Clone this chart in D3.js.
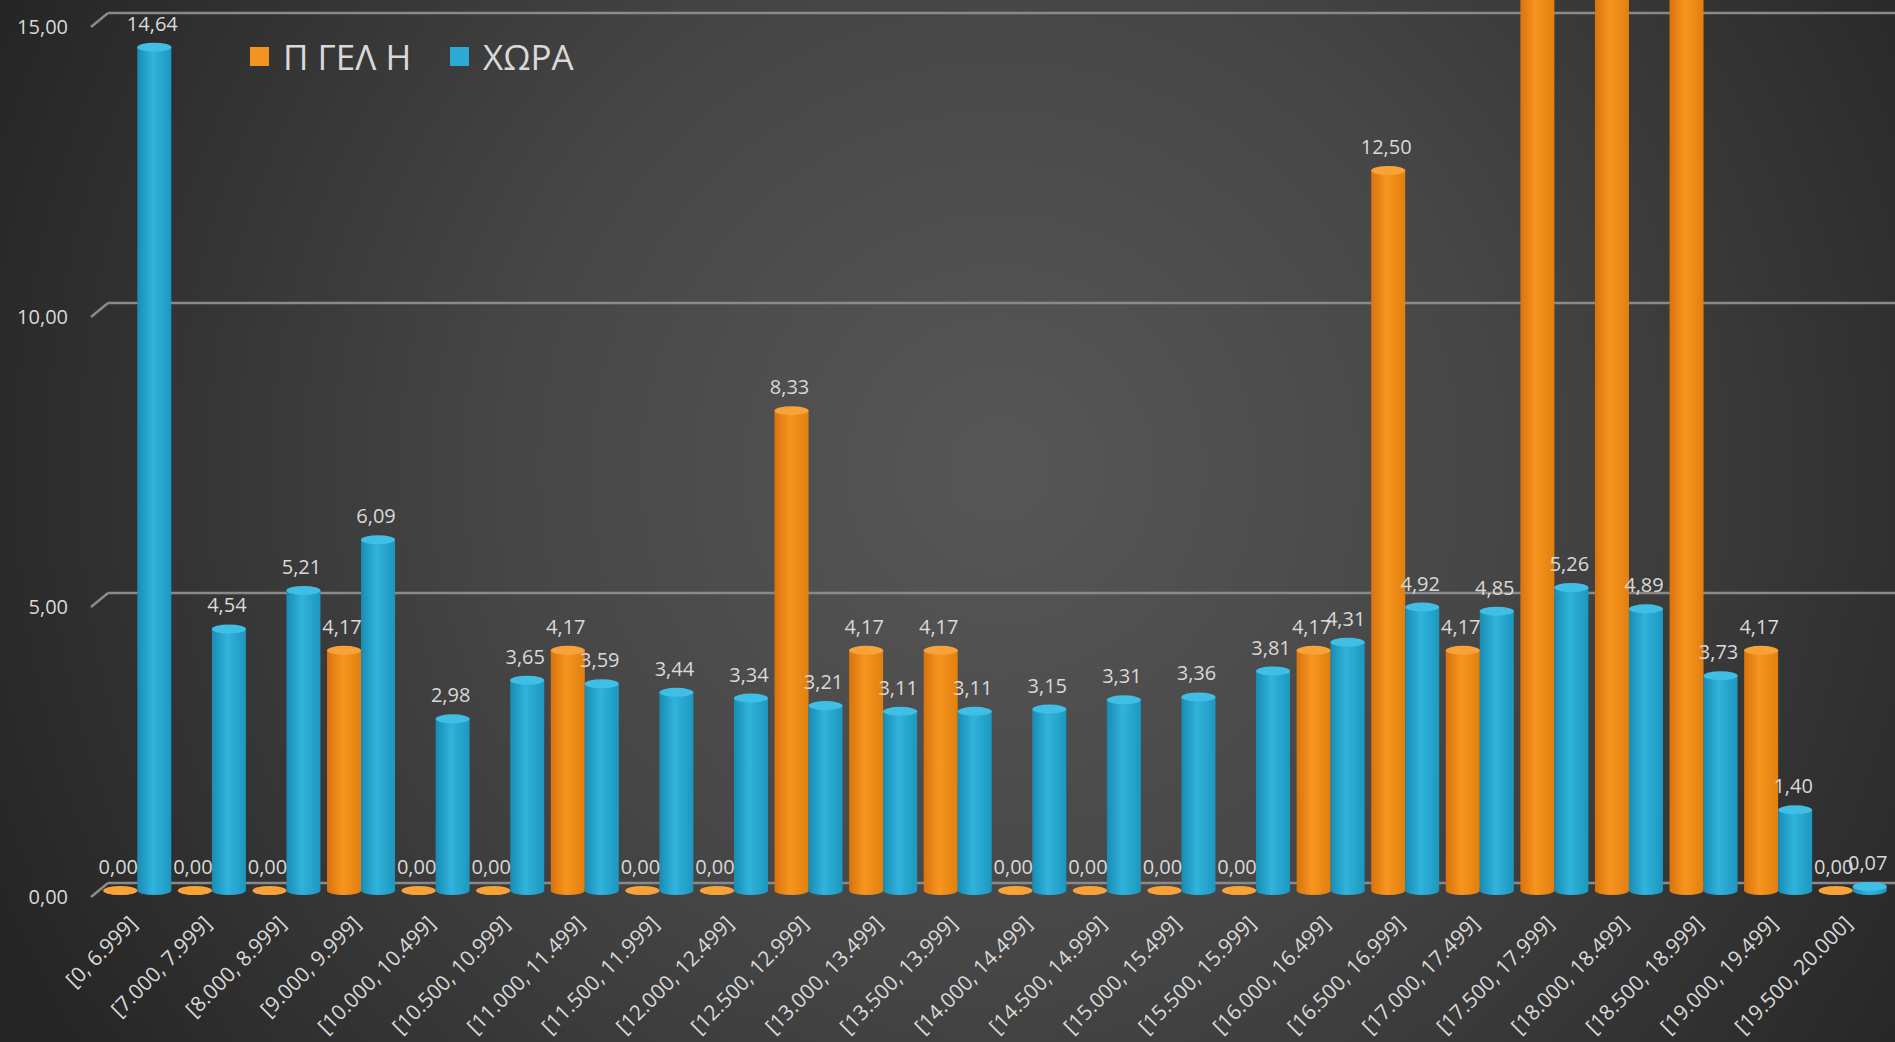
<!DOCTYPE html>
<html>
<head>
<meta charset="utf-8">
<script src="https://cdn.jsdelivr.net/npm/d3@7"></script>
<style>
  html, body { margin: 0; padding: 0; background: #2a2a2a; overflow: hidden; }
  text { font-family: "Open Sans", "Noto Sans", sans-serif; }
</style>
</head>
<body>
<script>
// categories (grade ranges)
var categories = ["[0, 6.999]", "[7.000, 7.999]", "[8.000, 8.999]", "[9.000, 9.999]",
  "[10.000, 10.499]", "[10.500, 10.999]", "[11.000, 11.499]", "[11.500, 11.999]",
  "[12.000, 12.499]", "[12.500, 12.999]", "[13.000, 13.499]", "[13.500, 13.999]",
  "[14.000, 14.499]", "[14.500, 14.999]", "[15.000, 15.499]", "[15.500, 15.999]",
  "[16.000, 16.499]", "[16.500, 16.999]", "[17.000, 17.499]", "[17.500, 17.999]",
  "[18.000, 18.499]", "[18.500, 18.999]", "[19.000, 19.499]", "[19.500, 20.000]"];

// series values (%)
var seriesNames = ["Π ΓΕΛ Η", "ΧΩΡΑ"];
var schoolValues = [0, 0, 0, 4.17, 0, 0, 4.17, 0, 0, 8.33, 4.17, 4.17,
  0, 0, 0, 0, 4.17, 12.50, 4.17, 16.67, 16.67, 16.67, 4.17, 0];
var countryValues = [14.64, 4.54, 5.21, 6.09, 2.98, 3.65, 3.59, 3.44, 3.34, 3.21, 3.11, 3.11,
  3.15, 3.31, 3.36, 3.81, 4.31, 4.92, 4.85, 5.26, 4.89, 3.73, 1.40, 0.07];

// y axis ticks
var yTicks = [0, 5, 10, 15];

var svgWidth = 1895;
var svgHeight = 1042;

var svg = d3.select('body').append('svg')
  .attr('width', svgWidth)
  .attr('height', svgHeight);

var defs = svg.append('defs');

// background radial gradient
var bg = defs.append('radialGradient')
  .attr('id', 'bg')
  .attr('gradientUnits', 'userSpaceOnUse')
  .attr('cx', 1000).attr('cy', 470).attr('r', 1100);
bg.append('stop').attr('offset', '0%').attr('stop-color', '#575757');
bg.append('stop').attr('offset', '45%').attr('stop-color', '#464646');
bg.append('stop').attr('offset', '100%').attr('stop-color', '#252525');

svg.append('rect')
  .attr('width', svgWidth)
  .attr('height', svgHeight)
  .attr('fill', 'url(#bg)');

// cylinder gradients
function cylGradient(id, dark, mid, light) {
  var g = defs.append('linearGradient').attr('id', id)
    .attr('x1', '0%').attr('x2', '100%').attr('y1', '0%').attr('y2', '0%');
  g.append('stop').attr('offset', '0%').attr('stop-color', dark);
  g.append('stop').attr('offset', '45%').attr('stop-color', light);
  g.append('stop').attr('offset', '100%').attr('stop-color', mid);
}
cylGradient('gOrange', '#d9730d', '#e2800f', '#f7951f');
cylGradient('gBlue', '#188cb3', '#1d97bf', '#30b3dc');

var colors = { body: ['url(#gOrange)', 'url(#gBlue)'], top: ['#f9a23a', '#3fbfe5'] };

// scales
var xScale = d3.scaleBand().domain(categories).range([100, 1890]).padding(0);
var xSub = d3.scaleBand().domain(seriesNames)
  .range([xScale.bandwidth() / 2 - 34, xScale.bandwidth() / 2 + 34]).padding(0);

// back wall (gridlines) and bar plane
var yWall = d3.scaleLinear().domain([0, 15]).range([883, 13]);
var yBar = d3.scaleLinear().domain([0, 15]).range([890.5, 26.5]);

var depthX = 17, depthY = 14;
var wallLeft = 108;

// gridlines with 3D stubs
var grid = svg.append('g').attr('class', 'grid');
grid.selectAll('line.h')
  .data(yTicks)
  .enter()
  .append('line')
  .attr('class', 'h')
  .attr('x1', wallLeft).attr('x2', svgWidth)
  .attr('y1', d => yWall(d)).attr('y2', d => yWall(d))
  .attr('stroke', '#8a8a8a').attr('stroke-width', 2.5);
grid.selectAll('line.d')
  .data(yTicks)
  .enter()
  .append('line')
  .attr('class', 'd')
  .attr('x1', wallLeft - depthX).attr('x2', wallLeft)
  .attr('y1', d => yWall(d) + depthY).attr('y2', d => yWall(d))
  .attr('stroke', '#8a8a8a').attr('stroke-width', 2.5);

// y tick labels
var fmt = v => d3.format('.2f')(v).replace('.', ',');
svg.append('g').selectAll('text')
  .data(yTicks)
  .enter()
  .append('text')
  .attr('x', 68)
  .attr('y', d => yWall(d) + depthY)
  .attr('dy', '0.35em')
  .attr('text-anchor', 'end')
  .attr('font-size', 20)
  .attr('fill', '#d9d9d9')
  .text(d => fmt(d));

// flatten data
var bars = [];
categories.forEach((c, i) => {
  bars.push({ cat: c, s: 0, name: seriesNames[0], v: schoolValues[i] });
  bars.push({ cat: c, s: 1, name: seriesNames[1], v: countryValues[i] });
});

var rx = 17, ry = 4.5;
function cx(d) { return xScale(d.cat) + xSub(d.name) + xSub.bandwidth() / 2; }

function bodyPath(d) {
  var x = cx(d), yt = yBar(d.v), yb = yBar(0);
  return 'M' + (x - rx) + ',' + yt + ' L' + (x - rx) + ',' + yb +
    ' A' + rx + ',' + ry + ' 0 0 0 ' + (x + rx) + ',' + yb +
    ' L' + (x + rx) + ',' + yt + ' Z';
}

var barG = svg.append('g').attr('class', 'bars');
var bar = barG.selectAll('g')
  .data(bars)
  .enter()
  .append('g');

bar.append('path')
  .attr('d', bodyPath)
  .attr('fill', d => colors.body[d.s]);

bar.append('ellipse')
  .attr('cx', cx)
  .attr('cy', d => yBar(d.v))
  .attr('rx', rx)
  .attr('ry', ry)
  .attr('fill', d => colors.top[d.s]);

// value labels (the ones above the axis max fall outside the picture, like the original)
svg.append('g').selectAll('text')
  .data(bars.filter(d => yBar(d.v) - ry - 12 > 0))
  .enter()
  .append('text')
  .attr('x', d => cx(d) - 2)
  .attr('y', d => yBar(d.v) - ry - 12)
  .attr('text-anchor', 'middle')
  .attr('font-size', 20)
  .attr('fill', '#d9d9d9')
  .text(d => fmt(d.v));

// category labels (rotated)
svg.append('g').selectAll('text')
  .data(categories)
  .enter()
  .append('text')
  .attr('transform', d => 'translate(' + (xScale(d) + xScale.bandwidth() / 2 + 1) + ',925) rotate(-45)')
  .attr('text-anchor', 'end')
  .attr('font-size', 21)
  .attr('fill', '#d9d9d9')
  .text(d => d);

// legend
var legend = svg.append('g').attr('class', 'legend');
var legendX = [250, 450];
var legendColors = ['#f39322', '#2aaad4'];
seriesNames.forEach((n, i) => {
  legend.append('rect')
    .attr('x', legendX[i]).attr('y', 47)
    .attr('width', 19).attr('height', 19)
    .attr('fill', legendColors[i]);
  legend.append('text')
    .attr('x', legendX[i] + 33).attr('y', 70)
    .attr('font-size', 35)
    .attr('fill', '#d9d9d9')
    .text(n);
});
</script>
</body>
</html>
